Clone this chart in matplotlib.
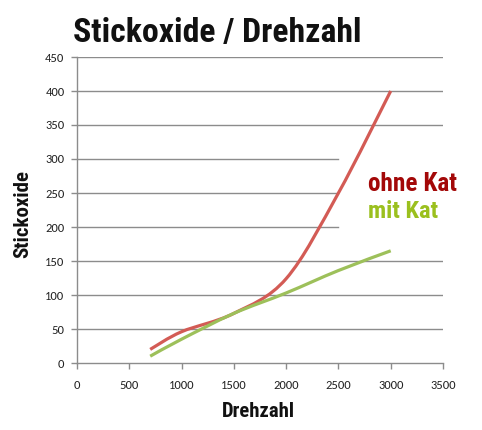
import numpy as np
import matplotlib
matplotlib.use("Agg")
import matplotlib.pyplot as plt
from matplotlib.path import Path
from matplotlib.patches import PathPatch

# data
drehzahl = [700, 1000, 1500, 2000, 2500, 3000]
ohne_kat = [20, 46, 73, 124, 250, 400]
mit_kat = [10, 35, 73, 103, 136, 165]
x_ticks = [0, 500, 1000, 1500, 2000, 2500, 3000, 3500]
y_ticks = [0, 50, 100, 150, 200, 250, 300, 350, 400, 450]

RED = "#D35B55"
GREEN = "#9DC05A"
GRID = "#8C8C8C"
COND = ["Roboto Condensed", "DejaVu Sans"]
W, H = 482, 430


def smooth_path(xs, ys):
    """Bezier path through the points, like Excel's smoothed line."""
    pts = np.column_stack([xs, ys]).astype(float)
    verts = [pts[0]]
    codes = [Path.MOVETO]
    n = len(pts)
    for i in range(n - 1):
        p0 = pts[i - 1] if i > 0 else pts[i]
        p1 = pts[i]
        p2 = pts[i + 1]
        p3 = pts[i + 2] if i + 2 < n else pts[i + 1]
        c1 = p1 + (p2 - p0) / 6.0
        c2 = p2 - (p3 - p1) / 6.0
        verts += [c1, c2, p2]
        codes += [Path.CURVE4] * 3
    return Path(verts, codes)


def fit_text(txt, target, renderer, vertical=False):
    # scale font size so the text spans the target length in pixels
    bb = txt.get_window_extent(renderer)
    cur = bb.height if vertical else bb.width
    txt.set_fontsize(txt.get_fontsize() * target / cur)


fig = plt.figure(figsize=(W / 100, H / 100), dpi=100)
ax = fig.add_axes([77 / W, 1 - 363 / H, 366 / W, 306 / H])

ax.set_xlim(0, 3500)
ax.set_ylim(0, 450)

# gridlines, the ones behind the labels stop at 2500
for y in y_ticks[1:]:
    right = 2500 / 3500 if 200 <= y <= 300 else 1.0
    ax.axhline(y, xmin=0, xmax=right, color=GRID, lw=1.0, zorder=1)

for ys, col in [(ohne_kat, RED), (mit_kat, GREEN)]:
    patch = PathPatch(smooth_path(drehzahl, ys), facecolor="none", edgecolor=col,
                      lw=2.3, capstyle="butt", zorder=3)
    ax.add_patch(patch)

ax.set_xticks(x_ticks)
ax.set_yticks(y_ticks)
ax.tick_params(axis="both", direction="out", length=4, width=1, color=GRID,
               labelsize=9, labelcolor="#222222")
ax.tick_params(axis="x", pad=8)
ax.tick_params(axis="y", pad=5)
for lab in ax.get_xticklabels() + ax.get_yticklabels():
    lab.set_family(["Carlito", "DejaVu Sans"])

for side in ["top", "right"]:
    ax.spines[side].set_visible(False)
for side in ["left", "bottom"]:
    ax.spines[side].set_color(GRID)
    ax.spines[side].set_linewidth(1.0)

title = fig.text(73 / W, 1 - 42 / H, "Stickoxide / Drehzahl", family=COND,
                 fontweight="bold", fontsize=25, color="#111111", va="baseline", ha="left")
xlab = fig.text(258 / W, 1 - 417 / H, "Drehzahl", family=COND, fontweight="bold",
                fontsize=15, color="#111111", va="baseline", ha="center")
ylab = fig.text(32 / W, 1 - 214 / H, "Stickoxide", family=COND, fontweight="bold",
                fontsize=15, color="#111111", va="center", ha="right", rotation=90)
ohne = fig.text(368 / W, 1 - 191 / H, "ohne Kat", family=COND, fontweight="bold",
                fontsize=15, color="#A30808", va="baseline", ha="left")
mit = fig.text(368 / W, 1 - 218 / H, "mit Kat", family=COND, fontweight="bold",
               fontsize=15, color="#9BC01E", va="baseline", ha="left")

renderer = fig.canvas.get_renderer()
fit_text(title, 289, renderer)
fit_text(xlab, 73, renderer)
fit_text(ylab, 88, renderer, vertical=True)
fit_text(ohne, 89, renderer)
fit_text(mit, 70, renderer)

fig.savefig("out.png", dpi=100)
